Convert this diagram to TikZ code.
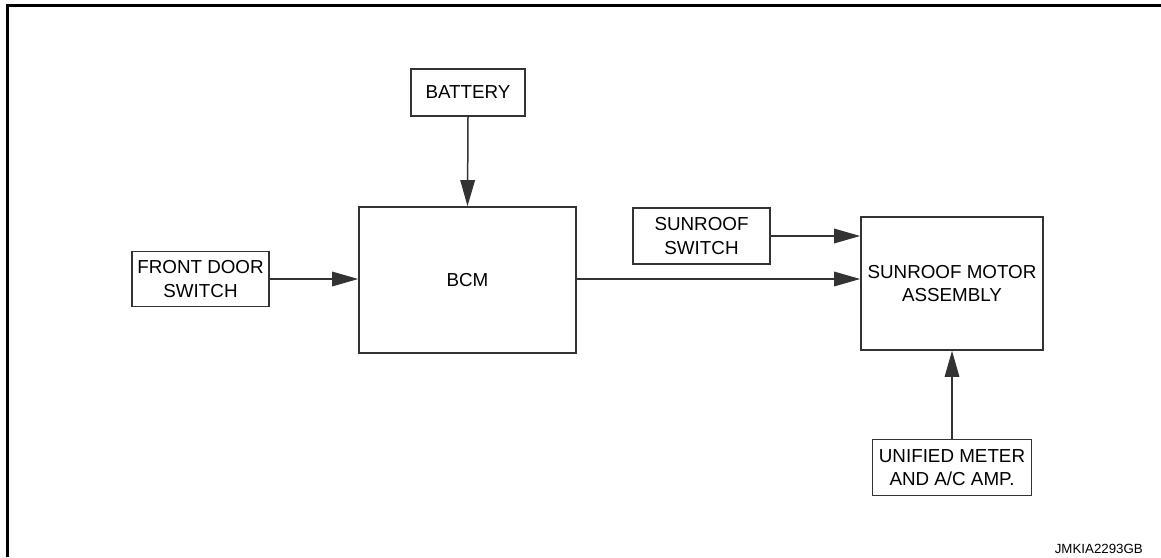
\documentclass[tikz,border=0pt]{standalone}
\usepackage{fontspec}
\setmainfont{Liberation Sans}
\usetikzlibrary{arrows.meta}
\definecolor{linegray}{gray}{0.2}
\begin{document}
\begin{tikzpicture}[x=1pt,y=-1pt,
  blk/.style={draw=linegray,line width=1.6pt,inner sep=0pt,align=center,
    font=\fontsize{18.8}{23.5}\selectfont},
  conn/.style={draw=linegray,line width=1.5pt,-{Triangle[length=26pt,width=14.5pt]}}]
\useasboundingbox (0,0) rectangle (1161,557);
\draw[line width=3pt] (7.5,557) -- (7.5,5.5) -- (1161,5.5);
\node[blk,minimum width=114pt,minimum height=47pt] (battery) at (468,92.5) {BATTERY};
\node[blk,minimum width=217pt,minimum height=146pt] (bcm) at (467.5,280) {BCM};
\node[blk,minimum width=137pt,minimum height=55pt] (fds) at (200.5,279) {FRONT DOOR\\SWITCH};
\node[blk,minimum width=137pt,minimum height=56pt] (srs) at (701.5,236) {SUNROOF\\SWITCH};
\node[blk,minimum width=182pt,minimum height=133pt] (motor) at (952,283.5) {SUNROOF MOTOR\\ASSEMBLY};
\node[blk,minimum width=159pt,minimum height=56pt] (meter) at (952,467.5) {UNIFIED METER\\AND A/C AMP.};
\node[font=\fontsize{13.3}{16}\selectfont,anchor=east,inner sep=0pt] (code) at (1143,549) {JMKIA2293GB};
\draw[conn] (battery.south) -- (bcm.north);
\draw[conn] (fds.east) -- (fds.east -| bcm.west);
\draw[conn] (srs.east) -- (srs.east -| motor.west);
\draw[conn] (fds.east -| bcm.east) -- (fds.east -| motor.west);
\draw[conn] (meter.north) -- (motor.south);
\end{tikzpicture}
\end{document}
